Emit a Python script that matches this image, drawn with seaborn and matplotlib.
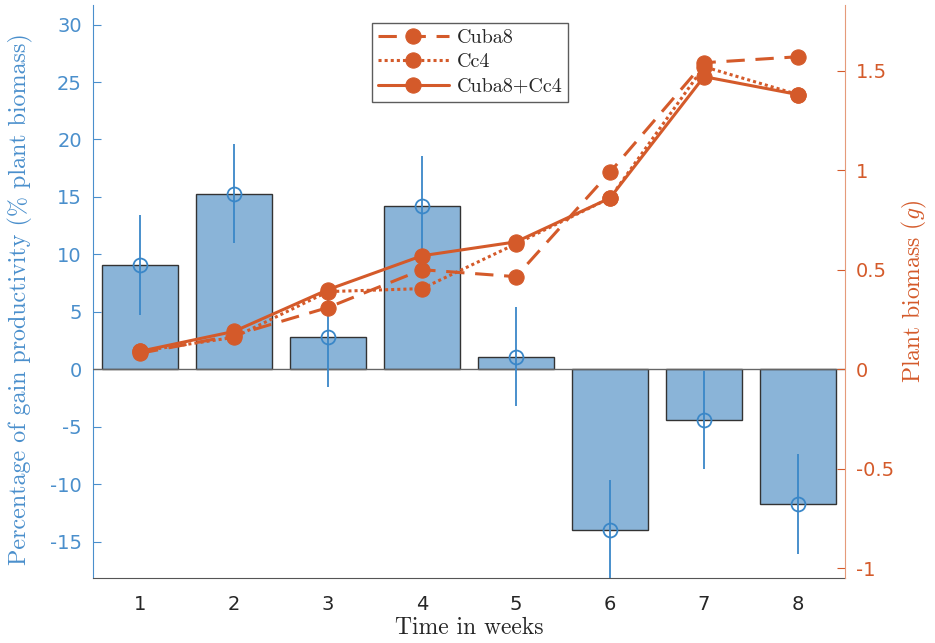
import matplotlib
matplotlib.use("Agg")
import matplotlib.pyplot as plt
import seaborn as sns
import pandas as pd

# data
weeks = [1, 2, 3, 4, 5, 6, 7, 8]
gain_pct = [9.1, 15.3, 2.8, 14.2, 1.1, -13.95, -4.4, -11.75]
gain_err = [4.35, 4.3, 4.3, 4.4, 4.3, 4.35, 4.3, 4.35]
biomass_cuba8 = [0.08, 0.17, 0.31, 0.50, 0.465, 0.99, 1.54, 1.57]
biomass_cc4 = [0.09, 0.16, 0.39, 0.405, 0.63, 0.86, 1.52, 1.38]
biomass_both = [0.09, 0.19, 0.40, 0.57, 0.64, 0.86, 1.47, 1.38]

bar_fill = "#8ab4d8"
err_blue = "#3a87c8"
axis_blue = "#4a8fcc"
orange = "#d45a2a"

sns.set_style("white")
plt.rcParams["mathtext.fontset"] = "cm"
plt.rcParams["font.family"] = ["DejaVu Sans"]
plt.rcParams["axes.unicode_minus"] = False

fig = plt.figure(figsize=(9.35, 6.43), dpi=100)
ax = fig.add_axes([93 / 935, 65 / 643, (845 - 93) / 935, (578 - 5) / 643])

df = pd.DataFrame({"week": weeks, "gain": gain_pct})
sns.barplot(data=df, x="week", y="gain", native_scale=True, width=0.8,
            color=bar_fill, saturation=1, edgecolor="#333333", linewidth=1.0,
            errorbar=None, ax=ax)
ax.errorbar(weeks, gain_pct, yerr=gain_err, fmt="o", mfc="none", mec=err_blue,
            ms=10, mew=1.3, ecolor=err_blue, elinewidth=1.3, capsize=0, zorder=4)
ax.axhline(0, color="#666666", lw=1.0, zorder=3)

ax.set_xlim(0.5, 8.5)
ax.set_ylim(-18.15, 31.7)
ax.set_xticks(weeks)
ax.set_yticks([-15, -10, -5, 0, 5, 10, 15, 20, 25, 30])
ax.set_xticklabels([str(w) for w in weeks])
ax.tick_params(axis="x", direction="in", length=6, colors="#333333",
               labelcolor="#262626", labelsize=14, pad=12)
ax.tick_params(axis="y", direction="in", length=6, colors=axis_blue,
               labelcolor=axis_blue, labelsize=14, pad=8)
for s in ["top", "right"]:
    ax.spines[s].set_visible(False)
ax.spines["left"].set_color(axis_blue)
ax.spines["bottom"].set_color("#555555")
ax.set_xlabel("Time in weeks", fontfamily="cmr10", fontsize=17, color="#262626",
              labelpad=2)
ax.set_ylabel("Percentage of gain productivity (% plant biomass)",
              fontfamily="cmr10", fontsize=17.3, color=axis_blue)
ax.yaxis.set_label_coords(-0.08, 0.487)

ax2 = ax.twinx()
lines = pd.DataFrame({
    "week": weeks * 3,
    "biomass": biomass_cuba8 + biomass_cc4 + biomass_both,
    "strain": ["Cuba8"] * 8 + ["Cc4"] * 8 + ["Cuba8+Cc4"] * 8,
})
sns.lineplot(data=lines, x="week", y="biomass", hue="strain", style="strain",
             palette=[orange] * 3,
             dashes={"Cuba8": (6, 3.5), "Cc4": (1, 1), "Cuba8+Cc4": ""},
             markers={"Cuba8": "o", "Cc4": "o", "Cuba8+Cc4": "o"},
             markersize=11, markeredgecolor=orange, linewidth=2.2,
             ax=ax2, legend=True)
ax2.set_ylim(-1.049, 1.83)
ax2.set_yticks([-1, -0.5, 0, 0.5, 1, 1.5])
ax2.set_yticklabels(["-1", "-0.5", "0", "0.5", "1", "1.5"])
ax2.tick_params(axis="y", direction="in", length=6, colors=orange,
                labelcolor=orange, labelsize=14, pad=8)
for s in ["top", "left", "bottom"]:
    ax2.spines[s].set_visible(False)
ax2.spines["right"].set_color("#e59a7a")
ax2.set_xlabel("")
ax2.set_ylabel("Plant biomass ($g$)", fontfamily="cmr10", fontsize=17,
               color=orange, labelpad=4)

leg = ax2.legend(loc="upper left", bbox_to_anchor=(0.371, 0.969), frameon=True,
                 fancybox=False, edgecolor="#333333", handlelength=3.5,
                 prop={"family": "cmr10", "size": 14.5}, borderpad=0.3,
                 borderaxespad=0, labelspacing=0.32, handletextpad=0.4)
leg.get_frame().set_linewidth(1.0)

fig.savefig("out.png", dpi=100)
